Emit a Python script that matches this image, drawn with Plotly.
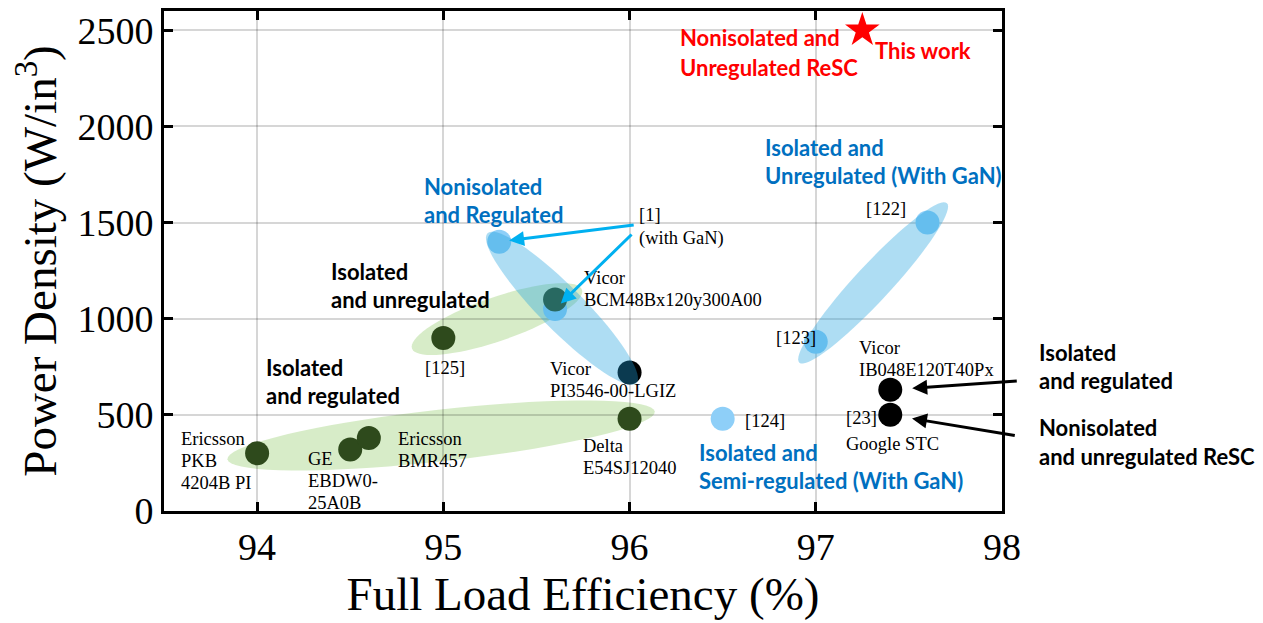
import numpy as np
import plotly.graph_objects as go

# ---- data: full-load efficiency (%) vs power density (W/in^3) ----
dark_eff = [94.0, 94.5, 94.6, 96.0, 95.0]          # isolated converters (green groups)
dark_den = [300, 320, 380, 480, 900]
gan_eff = [95.3, 95.6, 96.5, 97.0, 97.6]            # GaN-based designs
gan_den = [1400, 1050, 480, 880, 1500]
bcm_eff = [95.6]                                    # Vicor BCM48Bx120y300A00
bcm_den = [1100]
black_eff = [96.0, 97.4, 97.4]                      # Vicor PI3546, Vicor IB048, Google STC
black_den = [720, 630, 500]
star_eff = [97.25]                                  # this work
star_den = [2500]

x_ticks = [94, 95, 96, 97, 98]
y_ticks = [0, 500, 1000, 1500, 2000, 2500]
X_RANGE = [93.5, 98.0]
Y_RANGE = [0, 2600]

# ---- layout geometry ----
W, H = 1263, 623
ML, MR, MT, MB = 164, 261, 8, 112
PW, PH = W - ML - MR, H - MT - MB
SX = PW / (X_RANGE[1] - X_RANGE[0])   # px per % efficiency
SY = PH / (Y_RANGE[1] - Y_RANGE[0])   # px per W/in^3

DARK_GREEN = "#2e4a1c"
LIGHT_BLUE = "#8ecff8"
BLUE_TXT = "#0070c0"
ARROW_BLUE = "#00b0f0"
SERIF = "Liberation Serif, Times New Roman, serif"
SANS = "Lato, Open Sans, sans-serif"


def ellipse_path(cx, cy, a_px, b_px, ang_deg, n=72):
    """Rotated ellipse (screen-space axes in px) expressed in data coordinates."""
    t = np.linspace(0, 2 * np.pi, n, endpoint=False)
    th = np.deg2rad(ang_deg)
    u = a_px * np.cos(t)
    v = b_px * np.sin(t)
    dx = u * np.cos(th) - v * np.sin(th)
    dy = u * np.sin(th) + v * np.cos(th)
    xs = cx + dx / SX
    ys = cy + dy / SY
    pts = [f"{x:.5f},{y:.3f}" for x, y in zip(xs, ys)]
    return "M " + " L ".join(pts) + " Z"


fig = go.Figure()

fig.add_trace(go.Scatter(x=gan_eff, y=gan_den, mode="markers",
                         marker=dict(size=24, color=LIGHT_BLUE, line=dict(width=0)),
                         hoverinfo="skip", showlegend=False))
fig.add_trace(go.Scatter(x=dark_eff + bcm_eff, y=dark_den + bcm_den, mode="markers",
                         marker=dict(size=24, color=DARK_GREEN, line=dict(width=0)),
                         hoverinfo="skip", showlegend=False))
fig.add_trace(go.Scatter(x=black_eff, y=black_den, mode="markers",
                         marker=dict(size=24, color="black", line=dict(width=0)),
                         hoverinfo="skip", showlegend=False))
fig.add_trace(go.Scatter(x=star_eff, y=star_den, mode="markers",
                         marker=dict(size=26, symbol="star", color="#ff0000", line=dict(width=0)),
                         hoverinfo="skip", showlegend=False))

# group ellipses
green_fill = "rgba(150,205,110,0.38)"
blue_fill = "rgba(30,160,222,0.36)"
shapes = [
    dict(type="path", path=ellipse_path(94.988, 393, 215, 26, 6.4),
         fillcolor=green_fill, line=dict(width=0), layer="below"),
    dict(type="path", path=ellipse_path(95.288, 998, 90, 22, 19.2),
         fillcolor=green_fill, line=dict(width=0), layer="below"),
    dict(type="path", path=ellipse_path(95.637, 1054, 106, 22, -45.4),
         fillcolor=blue_fill, line=dict(width=0), layer="above"),
    dict(type="path", path=ellipse_path(97.308, 1186, 109, 18, 47.4),
         fillcolor=blue_fill, line=dict(width=0), layer="above"),
]

annotations = []


def add_text(lines, x, y, font, size, color, gap, bold=False):
    # x beyond the axis range is placed relative to the paper so it stays visible
    if x > X_RANGE[1]:
        xref, xv = "paper", (x - X_RANGE[0]) / (X_RANGE[1] - X_RANGE[0])
    else:
        xref, xv = "x", x
    for i, line in enumerate(lines):
        txt = f"<b>{line}</b>" if bold else line
        annotations.append(dict(x=xv, y=y, xref=xref, yref="y", text=txt, showarrow=False,
                                xanchor="left", yanchor="middle", yshift=-i * gap,
                                font=dict(family=font, size=size, color=color)))


# category captions (bold sans)
add_text(["Nonisolated and", "Unregulated ReSC"], 96.26, 2460, SANS, 22, "#ff0000", 30, True)
add_text(["This work"], 97.308, 2395, SANS, 22, "#ff0000", 30, True)
add_text(["Isolated and", "Unregulated (With GaN)"], 96.717, 1891, SANS, 22, BLUE_TXT, 28, True)
add_text(["Nonisolated", "and Regulated"], 94.884, 1690, SANS, 22, BLUE_TXT, 28, True)
add_text(["Isolated", "and unregulated"], 94.386, 1245, SANS, 22, "black", 28, True)
add_text(["Isolated", "and regulated"], 94.037, 744, SANS, 22, "black", 28, True)
add_text(["Isolated and", "Semi-regulated (With GaN)"], 96.363, 305, SANS, 22, BLUE_TXT, 28, True)
add_text(["Isolated", "and regulated"], 98.189, 822, SANS, 22, "black", 28, True)
add_text(["Nonisolated", "and unregulated ReSC"], 98.189, 434, SANS, 22, "black", 29, True)

# device labels (serif)
add_text(["[1]", "(with GaN)"], 96.04, 1540, SERIF, 18.5, "black", 24)
add_text(["Vicor", "BCM48Bx120y300A00"], 95.745, 1210, SERIF, 18.5, "black", 22)
add_text(["[125]"], 94.891, 744, SERIF, 18.5, "black", 22)
add_text(["Vicor", "PI3546-00-LGIZ"], 95.562, 739, SERIF, 18.5, "black", 22)
add_text(["Delta", "E54SJ12040"], 95.74, 336, SERIF, 18.5, "black", 22)
add_text(["[124]"], 96.61, 470, SERIF, 18.5, "black", 22)
add_text(["Ericsson", "PKB", "4204B PI"], 93.58, 377, SERIF, 18.5, "black", 22)
add_text(["GE", "EBDW0-", "25A0B"], 94.263, 269, SERIF, 18.5, "black", 22)
add_text(["Ericsson", "BMR457"], 94.746, 377, SERIF, 18.5, "black", 22)
add_text(["[123]"], 96.776, 899, SERIF, 18.5, "black", 22)
add_text(["[122]"], 97.259, 1571, SERIF, 18.5, "black", 22)
add_text(["Vicor", "IB048E120T40Px"], 97.22, 848, SERIF, 18.5, "black", 22)
add_text(["[23]"], 97.152, 486, SERIF, 18.5, "black", 22)
add_text(["Google STC"], 97.152, 351, SERIF, 18.5, "black", 22)

# arrows
arrow_specs = [
    (gan_eff[0], gan_den[0], 136, -17, ARROW_BLUE, 3, 10),
    (gan_eff[1], gan_den[1], 78, -76, ARROW_BLUE, 3, 8),
    (black_eff[1], black_den[1], 128, -9, "black", 3, 22),
    (black_eff[2], black_den[2], 126, 21, "black", 3, 22),
]
for ax_x, ax_y, dx, dy, col, wd, so in arrow_specs:
    annotations.append(dict(x=ax_x, y=ax_y, xref="x", yref="y", ax=dx, ay=dy,
                            axref="pixel", ayref="pixel", text="", showarrow=True,
                            arrowhead=2, arrowsize=1, arrowwidth=wd, arrowcolor=col,
                            standoff=so))

fig.update_layout(
    width=W, height=H,
    margin=dict(l=ML, r=MR, t=MT, b=MB),
    paper_bgcolor="white", plot_bgcolor="white",
    shapes=shapes, annotations=annotations,
    xaxis=dict(range=X_RANGE, tickvals=x_ticks, ticktext=[str(v) for v in x_ticks],
               showgrid=True, gridcolor="rgba(0,0,0,0.16)", gridwidth=2,
               showline=True, linecolor="black", linewidth=3, mirror="ticks",
               ticks="inside", ticklen=9, tickwidth=3, tickcolor="black",
               tickfont=dict(family=SERIF, size=38, color="black"),
               title=dict(text="Full Load Efficiency (%)", standoff=10,
                          font=dict(family=SERIF, size=47, color="black")),
               zeroline=False, fixedrange=True),
    yaxis=dict(range=Y_RANGE, tickvals=y_ticks, ticktext=[str(v) for v in y_ticks],
               showgrid=True, gridcolor="rgba(0,0,0,0.16)", gridwidth=2,
               showline=True, linecolor="black", linewidth=3, mirror="ticks",
               ticks="inside", ticklen=9, tickwidth=3, tickcolor="black",
               tickfont=dict(family=SERIF, size=38, color="black"),
               title=dict(text="Power Density (W/in<sup>3</sup>)", standoff=6,
                          font=dict(family=SERIF, size=47, color="black")),
               zeroline=False, fixedrange=True),
)

fig.write_html("out.html")
